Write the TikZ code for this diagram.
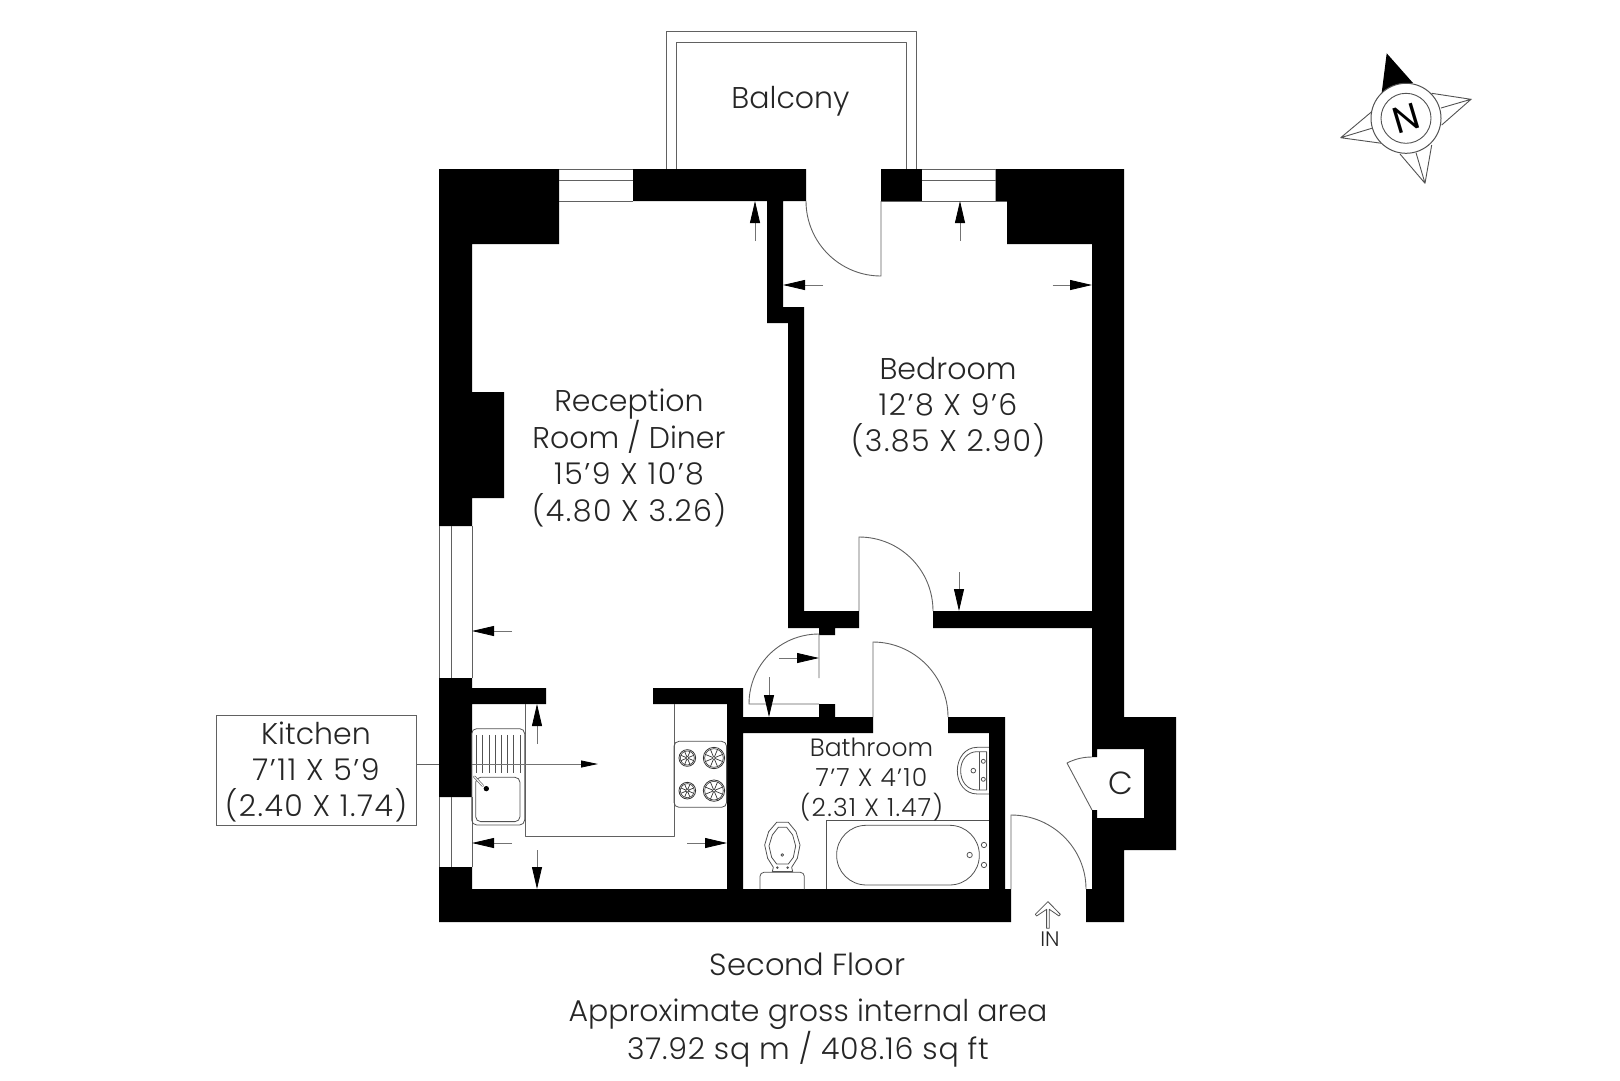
\documentclass[tikz,border=0pt]{standalone}
\usepackage{fontspec}
\setmainfont{Poppins Light}
\newfontfamily\nfont{Poppins}
\newcommand{\numf}{\addfontfeature{LetterSpace=5}}
\newcommand{\numg}{\addfontfeature{LetterSpace=2.5}}
\usetikzlibrary{arrows.meta}
\tikzset{
  wall/.style={fill=black,draw=none},
  thin line/.style={draw=black!62,line width=0.9pt,line join=round},
  fix/.style={draw=black!68,line width=0.8pt,line join=round},
  dimarrow/.style={draw=black!55,line width=0.8pt,-{Triangle[length=22pt,width=10pt,color=black,fill=black]}},
  big/.style={font=\fontsize{30}{36}\selectfont,align=center,text=black!85,inner sep=0pt},
  bath/.style={font=\fontsize{25}{30}\selectfont,align=center,text=black!85,inner sep=0pt},
}
\begin{document}
\begin{tikzpicture}[x=1pt,y=-1pt]
\useasboundingbox (0,0) rectangle (1620,1080);
% balcony
\draw[thin line] (666,169) -- (666,31) -- (916.5,31) -- (916.5,169);
\draw[thin line] (676.5,169) -- (676.5,42) -- (906,42) -- (906,169);
% walls
\fill[wall] (439,169)--(559,169)--(559,244)--(472,244)--(472,392)--(504,392)--(504,498)--(472,498)--(472,526)--(439,526)--cycle;
\fill[wall] (633,169)--(806,169)--(806,201)--(783,201)--(783,307)--(804,307)--(804,611)--(859,611)--(859,628)--(835,628)--(835,635)--(819,635)--(819,628)--(788,628)--(788,323)--(767,323)--(767,201)--(633,201)--cycle;
\fill[wall] (881,169)--(921.5,169)--(921.5,201)--(881,201)--cycle;
\fill[wall] (995.5,169)--(1124,169)--(1124,717)--(1176,717)--(1176,850)--(1124,850)--(1124,922)--(1086,922)--(1086,889)--(1092,889)--(1092,810)--(1097,810)--(1097,818)--(1144,818)--(1144,749)--(1097,749)--(1097,757)--(1092,757)--(1092,628)--(933,628)--(933,611)--(1092,611)--(1092,244)--(1007,244)--(1007,201)--(995.5,201)--cycle;
\fill[wall] (439,678)--(472,678)--(472,688)--(546,688)--(546,704)--(472,704)--(472,797)--(439,797)--cycle;
\fill[wall] (653,688)--(743,688)--(743,717)--(819,717)--(819,704)--(835,704)--(835,717)--(873,717)--(873,733)--(743,733)--(743,889)--(989,889)--(989,733)--(948,733)--(948,717)--(1005,717)--(1005,889)--(1011,889)--(1011,922)--(439,922)--(439,867)--(472,867)--(472,889)--(727,889)--(727,704)--(653,704)--cycle;
% windows
\draw[thin line] (559,169)--(633,169) (559,180)--(633,180) (559,201)--(633,201);
\draw[thin line] (921.5,169)--(995.5,169) (921.5,180)--(995.5,180) (881,201)--(1007,201);
\draw[thin line] (439,526)--(439,678) (451,526)--(451,678) (472,526)--(472,678);
\draw[thin line] (439,797)--(439,867) (451,797)--(451,867) (472,797)--(472,867);
% doors
\draw[thin line] (806,201) .. controls (806,242.4) and (839.6,276) .. (881,276) -- (881,201);
\draw[thin line] (933,611) .. controls (933,570) and (900,537) .. (859,537) -- (859,611);
\draw[thin line] (819,678) -- (819,634) .. controls (780,634) and (749,665) .. (749,704) -- (819,704);
\draw[thin line] (948,717) .. controls (948,676) and (914,642) .. (873,642) -- (873,717);
\draw[thin line] (1086,889) .. controls (1086,848) and (1052,815) .. (1011,815) -- (1011,889);
\draw[thin line] (1092,757) .. controls (1083,757) and (1075,759) .. (1067,763) -- (1092,810);
% kitchen worktop
\draw[thin line] (525,704) -- (525,836) -- (674,836) -- (674,704);
% fixtures in kitchen
\begin{scope}[shift={(420,520)},x=0.3333pt,y=-0.3333pt]
\draw[fix,rounded corners=5pt] (155,626) rectangle (314,915);
\draw[fix,rounded corners=5pt] (167,772) rectangle (300,905);
\foreach \lx in {170,188,207,225,243,262,281,300} \draw[fix] (\lx,645) -- (\lx,760);
\draw[fix,fill=white,line width=2.4pt,draw=black!60,line cap=round] (163,770) -- (188,797);
\draw[white,line width=1pt,line cap=round] (163,770) -- (188,797);
\fill[black] (199,806) circle (8);
\draw[fix,rounded corners=5pt] (762,664) rectangle (920,862);
\foreach \cx/\cy/\rr in {802/714/25,882/714/32,802/812/25,882/812/32}{
  \draw[black!80,line width=0.8pt] (\cx,\cy) circle (\rr);
  \draw[black!80,line width=0.6pt] (\cx,\cy) circle (\rr-4);
  \draw[black!80,line width=0.6pt] (\cx,\cy) circle (5);
  \foreach \an in {22.5,67.5,...,337.5} \draw[black!80,line width=0.7pt] (\cx,\cy) ++(\an:5) -- ++(\an:\rr-9);
}
\end{scope}
% bathroom fixtures
\begin{scope}[shift={(720,520)},x=0.3333pt,y=-0.3333pt]
\draw[fix] (320,1108) -- (320,902) -- (807,902);
\draw[fix,rounded corners=29.5pt] (350,916) rectangle (778,1095);
\draw[fix] (792,975) circle (8) (792,1035) circle (8) (749,1005) circle (8);
% basin
\draw[fix] (807,682) -- (772,682) .. controls (735,682) and (712,715) .. (712,752) .. controls (712,790) and (735,822) .. (772,822) -- (807,822);
\draw[fix] (800,695) -- (772,695) .. controls (742,695) and (722,720) .. (722,752) .. controls (722,785) and (742,810) .. (772,810) -- (800,810) -- cycle;
\draw[fix] (778,695) -- (778,810);
\draw[fix] (760,752) circle (7) (790,724) circle (6) (790,778) circle (6);
% toilet
\draw[fix,rounded corners=4pt] (120,1108) -- (120,1057) -- (253,1057) -- (253,1108);
\draw[fix] (170,907) -- (205,907) -- (228,935) -- (240,975) -- (232,1015) -- (215,1042) -- (218,1055) -- (157,1055) -- (160,1042) -- (143,1015) -- (134,975) -- (146,935) -- cycle;
\draw[fix] (175,922) -- (200,922) -- (218,945) -- (227,978) -- (220,1012) -- (205,1032) -- (170,1032) -- (155,1012) -- (147,978) -- (157,945) -- cycle;
\fill[black!70] (172,1043) circle (4) (203,1043) circle (4);
\draw[fix] (187,1005) circle (4);
% in arrow
\draw[fix] (980,1225) -- (980,1168) -- (950,1188) -- (946,1183) -- (984,1145) -- (1021,1183) -- (1017,1188) -- (988,1168) -- (988,1225) -- cycle;
\end{scope}
% dimension arrows
\draw[dimarrow] (512,631) -- (472,631);
\draw[dimarrow] (537,744) -- (537,704);
\draw[dimarrow] (512,843) -- (472,843);
\draw[dimarrow] (687,843) -- (727,843);
\draw[dimarrow] (537,850) -- (537,889);
\draw[dimarrow] (779,658) -- (819,658);
\draw[dimarrow] (769,677) -- (769,717);
\draw[dimarrow] (959,572) -- (959,611);
\draw[dimarrow] (755,241) -- (755,201);
\draw[dimarrow] (960,241) -- (960,201);
\draw[dimarrow] (823,285) -- (783,285);
\draw[dimarrow] (1052.5,285) -- (1092,285);
\draw[draw=black!55,line width=0.8pt,-{Triangle[length=17pt,width=7pt,color=black,fill=black]}] (472,764) -- (598,764);
% kitchen label
\node[draw=black!62,line width=0.9pt,minimum width=200pt,minimum height=110pt,inner sep=0pt] (kitchenbox) at (316,770) {};
\coordinate (kitchenwall) at (439,764);
\draw[thin line] (kitchenbox.east |- kitchenwall) -- (kitchenwall);
\node[big] (kitchentext) at (316,772) {Kitchen\\{\numf 7'11 X 5'9}\\{\numf (2.40 X 1.74)}};
% labels
\node[big] (balcony) at (790.5,101) {Balcony};
\node[big,font=\fontsize{30}{36.7}\selectfont] (reception) at (629,458) {Reception\\Room / Diner\\{\numf 15'9 X 10'8}\\{\numf (4.80 X 3.26)}};
\node[big,font=\fontsize{30}{36}\selectfont] (bedroom) at (948,407.5) {Bedroom\\{\numf 12'8 X 9'6}\\{\numf (3.85 X 2.90)}};
\node[bath] (bathroom) at (871.5,780) {Bathroom\\{\numf 7'7 X 4'10}\\{\numf (2.31 X 1.47)}};
\node[big,font=\fontsize{32}{32}\selectfont] (cupboard) at (1121,783) {C};
\node[inner sep=0pt,font=\fontsize{21}{21}\selectfont,text=black!85] (in) at (1050,939) {IN};
\node[big,font=\fontsize{30.5}{36}\selectfont] (floor) at (807.5,964) {Second Floor};
\node[big,font=\fontsize{30}{38.4}\selectfont] (area) at (808,1033) {Approximate gross internal area\\{\numg 37.92 sq m / 408.16 sq ft}};
% compass
\fill[black] (1386.7,53.3) -- (1381.7,92.7) -- (1413,83) -- cycle;
\draw[fix,line width=0.9pt,line join=miter] (1431.7,93.3) -- (1471,99.3) -- (1441.7,125) (1471,99.3) -- (1441,108);
\draw[fix,line width=0.9pt] (1371.7,111.7) -- (1340.7,137.7) -- (1381.7,143.3) (1340.7,137.7) -- (1371.7,128.3);
\draw[fix,line width=0.9pt] (1400,154) -- (1425,183.3) -- (1431.7,145) (1425,183.3) -- (1416,152.7);
\draw[fix,line width=1pt,fill=white] (1406,118.3) circle (35);
\draw[fix,line width=0.9pt] (1406,118.3) circle (25);
\node[inner sep=0pt,rotate=16.6,font=\nfont\fontsize{37}{37}\selectfont] (north) at (1406,118.3) {N};
\end{tikzpicture}
\end{document}
